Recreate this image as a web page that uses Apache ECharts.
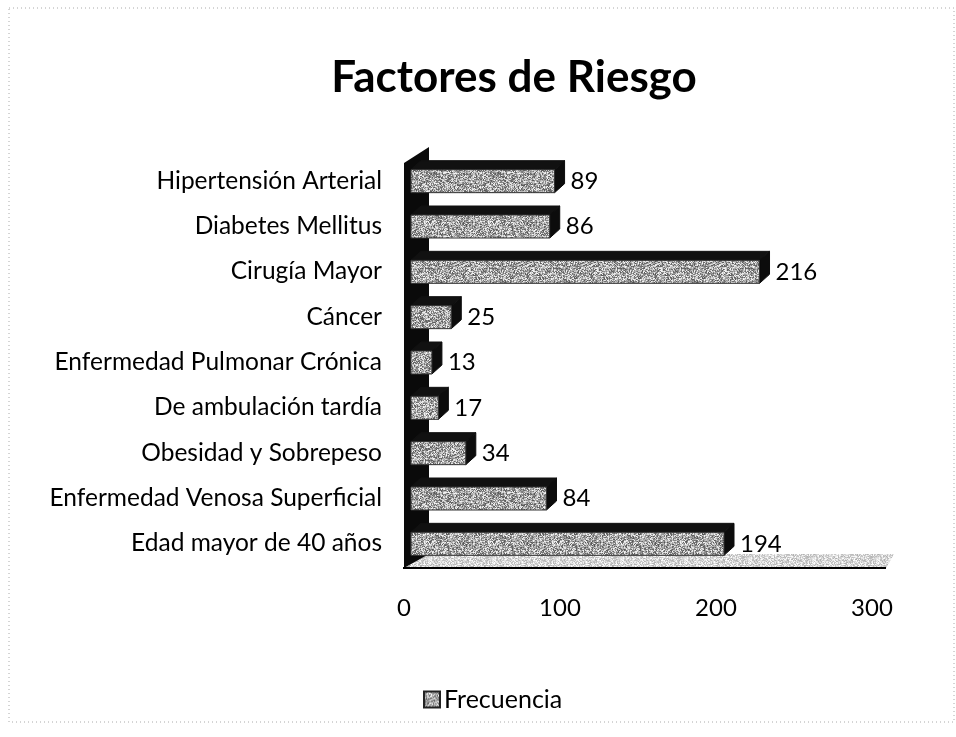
<!DOCTYPE html>
<html lang="es">
  <head>
    <meta charset="UTF-8" />
    <title>Factores de Riesgo</title>
    <script src="https://cdn.jsdelivr.net/npm/echarts@6/dist/echarts.min.js"></script>
    <style>
      html, body { margin: 0; padding: 0; background: #fff; }
      #chart { width: 956px; height: 737px; }
    </style>
  </head>
  <body>
    <div id="chart"></div>
    <script type="text/javascript">
      // datos (de abajo hacia arriba, como en el eje de categorías)
      const categories = [
        "Edad mayor de 40 años",
        "Enfermedad Venosa Superficial",
        "Obesidad y Sobrepeso",
        "De ambulación tardía",
        "Enfermedad Pulmonar Crónica",
        "Cáncer",
        "Cirugía Mayor",
        "Diabetes Mellitus",
        "Hipertensión Arterial",
      ];
      const frecuencia = [194, 84, 34, 17, 13, 25, 216, 86, 89];
      const xTicks = [0, 100, 200, 300];

      const font = "Lato";
      const gridLeft = 404,
        gridTop = 158,
        gridWidth = 468,
        gridHeight = 408;
      // profundidad 3D
      const dx = 10,
        dy = 9,
        faceH = 23;

      // textura granulada de la cara frontal
      function grain(size, lo, hi, seed) {
        const c = document.createElement("canvas");
        c.width = c.height = size;
        const ctx = c.getContext("2d");
        const img = ctx.createImageData(size, size);
        let s = seed;
        for (let i = 0; i < size * size; i++) {
          s = (s * 1103515245 + 12345) & 0x7fffffff;
          const g = lo + ((s >> 8) % (hi - lo));
          img.data[i * 4] = g;
          img.data[i * 4 + 1] = g;
          img.data[i * 4 + 2] = g;
          img.data[i * 4 + 3] = 255;
        }
        ctx.putImageData(img, 0, 0);
        return { image: c, repeat: "repeat" };
      }
      const faceFill = grain(64, 85, 250, 7);
      const floorFill = grain(64, 175, 256, 3);

      const chart = echarts.init(document.getElementById("chart"));

      const renderBar = (params, api) => {
        const v = api.value(0);
        const idx = api.value(1);
        const p0 = api.coord([0, idx]);
        const p1 = api.coord([v, idx]);
        const xa = p0[0],
          xb = p1[0];
        const yc = p0[1] + 0.5;
        const yt = yc - faceH / 2,
          yb = yc + faceH / 2;
        return {
          type: "group",
          children: [
            {
              type: "polygon",
              shape: { points: [[xa, yt], [xb, yt], [xb + dx, yt - dy], [xa + dx, yt - dy]] },
              style: { fill: "#111", stroke: "#111" },
            },
            {
              type: "polygon",
              shape: { points: [[xb, yt], [xb, yb], [xb + dx, yb - dy], [xb + dx, yt - dy]] },
              style: { fill: "#0c0c0c", stroke: "#0c0c0c" },
            },
            {
              type: "rect",
              shape: { x: xa, y: yt, width: xb - xa, height: faceH },
              style: { fill: faceFill, stroke: "#333", lineWidth: 1 },
            },
            {
              type: "text",
              x: xb + dx + 6,
              y: yc,
              style: {
                text: String(v),
                fill: "#000",
                font: "24px " + font,
                verticalAlign: "middle",
                align: "left",
              },
            },
          ],
        };
      };

      const gridBottom = gridTop + gridHeight;
      const floorRight = 886;
      const options = {
        animation: false,
        title: {
          text: "Factores de Riesgo",
          left: 509,
          top: 51,
          textAlign: "center",
          textStyle: { fontFamily: font, fontSize: 44, fontWeight: "bold", color: "#000" },
        },
        legend: {
          data: ["Frecuencia"],
          left: 418,
          top: 682,
          icon: "rect",
          itemWidth: 16,
          itemHeight: 16,
          itemGap: 4,
          selectedMode: false,
          textStyle: { fontFamily: font, fontSize: 25, color: "#000", padding: [0, 0, 0, -1] },
        },
        grid: { left: gridLeft, top: gridTop, width: gridWidth, height: gridHeight },
        xAxis: [
          {
            type: "value",
            min: xTicks[0],
            max: xTicks[xTicks.length - 1],
            interval: 100,
            splitLine: { show: false },
            axisTick: { show: false },
            axisLine: { show: false },
            axisLabel: { margin: 30, fontFamily: font, fontSize: 24, color: "#000" },
          },
          {
            // eje oculto: escala de la fila de barras (plano posterior en 3D)
            type: "value",
            min: -4.3,
            max: 285.7,
            show: false,
          },
        ],
        yAxis: {
          type: "category",
          data: categories,
          axisTick: { show: false },
          axisLine: { show: false },
          axisLabel: { margin: 22, fontFamily: font, fontSize: 24.5, color: "#000" },
        },
        graphic: [
          {
            type: "rect",
            silent: true,
            shape: { x: 9, y: 8, width: 945, height: 714 },
            style: { fill: "none", stroke: "#aaa", lineWidth: 1, lineDash: [1, 3] },
          },
          // suelo
          {
            type: "polygon",
            silent: true,
            z: 0,
            shape: {
              points: [
                [gridLeft, gridBottom + 2],
                [gridLeft + 24, gridBottom - 12],
                [floorRight + 8, gridBottom - 12],
                [floorRight, gridBottom + 2],
              ],
            },
            style: { fill: floorFill },
          },
          {
            type: "line",
            silent: true,
            z: 2,
            shape: { x1: gridLeft - 1, y1: gridBottom + 2, x2: floorRight, y2: gridBottom + 2 },
            style: { stroke: "#000", lineWidth: 2 },
          },
          // pared lateral
          {
            type: "polygon",
            silent: true,
            z: 1,
            shape: {
              points: [
                [gridLeft, gridBottom + 2],
                [gridLeft, gridTop + 5],
                [gridLeft + 25, gridTop - 11],
                [gridLeft + 25, gridBottom - 12],
              ],
            },
            style: { fill: "#0a0a0a" },
          },
        ],
        series: [
          {
            name: "Frecuencia",
            type: "custom",
            xAxisIndex: 1,
            z: 5,
            renderItem: renderBar,
            encode: { x: 0, y: 1 },
            itemStyle: { color: faceFill, borderColor: "#222", borderWidth: 1 },
            data: frecuencia.map((v, i) => [v, i]),
          },
        ],
      };
      chart.setOption(options);
    </script>
  </body>
</html>
